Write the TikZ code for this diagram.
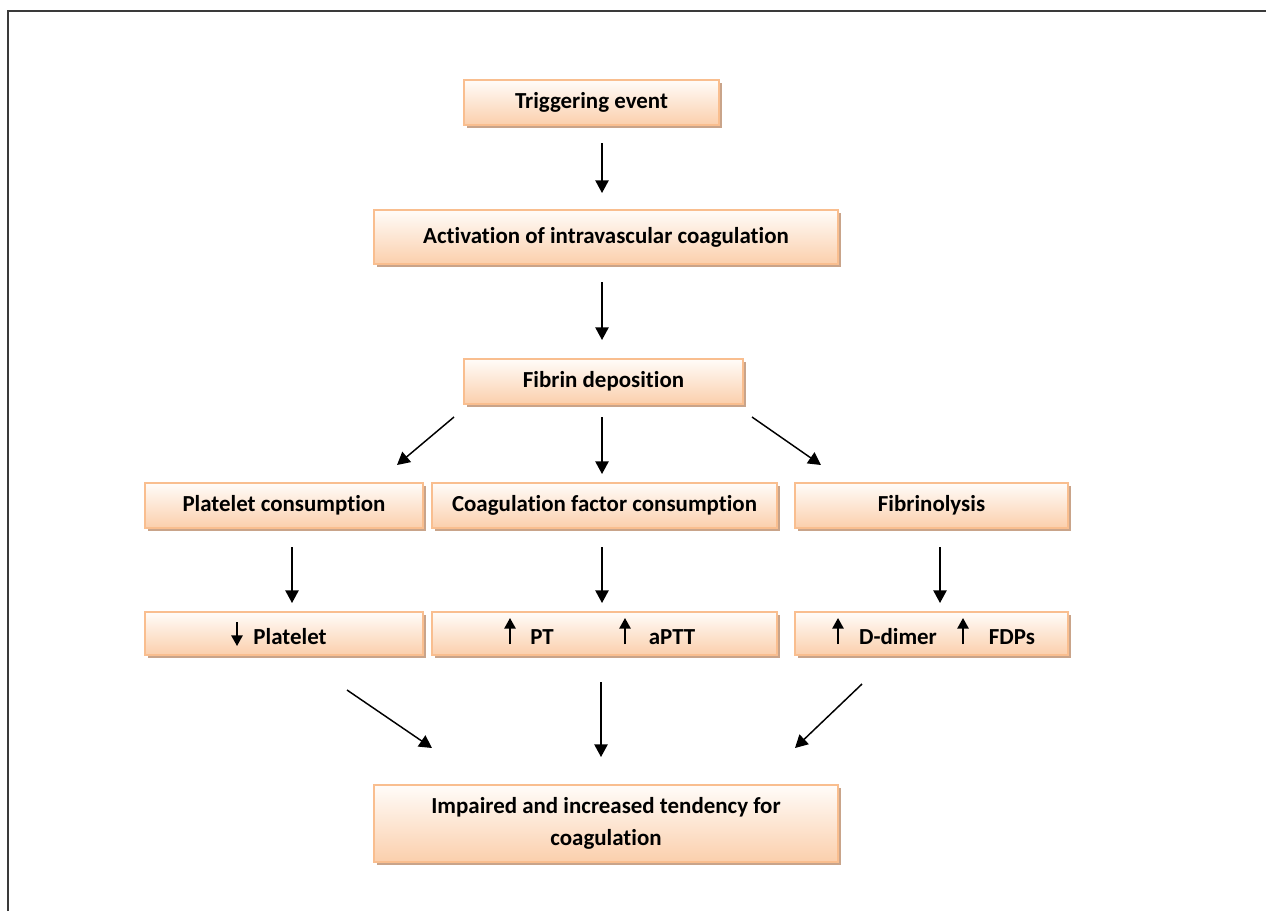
\documentclass[tikz,border=0pt]{standalone}
\usepackage{fontspec}
\setmainfont{Carlito}[Ligatures=NoCommon]
\usetikzlibrary{arrows.meta,shadows}
\definecolor{boxborder}{HTML}{F9BE8F}
\definecolor{boxtop}{HTML}{FFFCF9}
\definecolor{boxbot}{HTML}{FBCFAC}
\definecolor{boxshadow}{HTML}{C9A48A}
\definecolor{framec}{HTML}{3A3A3A}
\begin{document}
\begin{tikzpicture}[x=0.75pt,y=-0.75pt,
  flowbox/.style={draw=boxborder, line width=0.9pt, top color=boxtop, bottom color=boxbot,
    drop shadow={shadow xshift=2.3pt, shadow yshift=-2.3pt, fill=boxshadow, opacity=1},
    inner sep=0pt, font=\bfseries\fontsize{17.2}{24}\selectfont, align=center},
  arr/.style={-{Triangle[length=9.5pt,width=10pt]}, line width=1.1pt},
  smallarr/.style={-{Triangle[length=8pt,width=8.5pt]}, line width=1.3pt},
  lbl/.style={font=\bfseries\fontsize{17.2}{24}\selectfont, inner sep=0pt}]
\useasboundingbox (0,0) rectangle (1266,911);
% frame
\draw[framec, line width=1.2pt] (8,911) -- (8,11) -- (1266,11);
% boxes
\node[flowbox, minimum width=191.25pt, minimum height=33.75pt] (trig) at (591.5,102.5) {Triggering event};
\node[flowbox, minimum width=348pt, minimum height=40.5pt] (act) at (606,237) {Activation of intravascular coagulation};
\node[flowbox, minimum width=209.25pt, minimum height=33.75pt] (fib) at (603.5,381.5) {Fibrin deposition};
\node[flowbox, minimum width=208.5pt, minimum height=33.75pt] (pc) at (284,505.5) {Platelet consumption};
\node[flowbox, minimum width=258.75pt, minimum height=33.75pt] (cf) at (604.5,505.5) {Coagulation factor consumption};
\node[flowbox, minimum width=204.75pt, minimum height=33.75pt] (fl) at (931.5,505.5) {Fibrinolysis};
\node[flowbox, minimum width=208.5pt, minimum height=32.25pt] (plt) at (284,633.5) {};
\node[flowbox, minimum width=258.75pt, minimum height=32.25pt] (pt) at (604.5,633.5) {};
\node[flowbox, minimum width=204.75pt, minimum height=32.25pt] (dd) at (931.5,633.5) {};
\node[flowbox, minimum width=348pt, minimum height=57.75pt] (imp) at (606,823.5) {Impaired and increased tendency for\\coagulation};
% labels in value boxes
\node[lbl] (pltl) at (290,637) {Platelet};
\node[lbl] (ptl) at (542,637) {PT};
\node[lbl] (aptl) at (672,637) {aPTT};
\node[lbl] (ddl) at (898,637) {D-dimer};
\node[lbl] (fdpl) at (1012,637) {FDPs};
% small arrows
\draw[smallarr] (237,622) -- (237,646);
\draw[smallarr] (510,644) -- (510,618);
\draw[smallarr] (625,644) -- (625,618);
\draw[smallarr] (838,644) -- (838,618);
\draw[smallarr] (963,644) -- (963,618);
% arrow end points
\coordinate (a1s) at (602,143); \coordinate (a1e) at (602,193);
\coordinate (a2s) at (602,282); \coordinate (a2e) at (602,340);
\coordinate (a3s) at (454,417); \coordinate (a3e) at (397,465);
\coordinate (a4s) at (602,417); \coordinate (a4e) at (602,474);
\coordinate (a5s) at (752,417); \coordinate (a5e) at (821,465);
\coordinate (a6s) at (292,547); \coordinate (a6e) at (292,603);
\coordinate (a7s) at (602,547); \coordinate (a7e) at (602,603);
\coordinate (a8s) at (940,547); \coordinate (a8e) at (940,603);
\coordinate (a9s) at (347,690); \coordinate (a9e) at (432,748);
\coordinate (a10s) at (601,682); \coordinate (a10e) at (601,757);
\coordinate (a11s) at (862,684); \coordinate (a11e) at (795,748);
\foreach \i in {1,...,11} {\draw[arr] (a\i s) -- (a\i e);}
\end{tikzpicture}
\end{document}
